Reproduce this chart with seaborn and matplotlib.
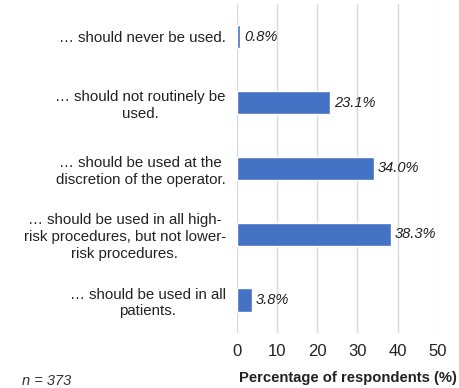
import matplotlib
matplotlib.use("Agg")
import matplotlib.pyplot as plt
import seaborn as sns
import pandas as pd

# Survey answers and shares
answers = [
    "… should never be used.",
    "… should not routinely be\nused.",
    "… should be used at the\ndiscretion of the operator.",
    "… should be used in all high-\nrisk procedures, but not lower-\nrisk procedures.",
    "… should be used in all\npatients.",
]
percent = [0.8, 23.1, 34.0, 38.3, 3.8]
x_ticks = [0, 10, 20, 30, 40, 50]
n_text = "n = 373"

df = pd.DataFrame({"answer": answers, "percent": percent})

sns.set_style("white")
plt.rcParams["font.family"] = ["Liberation Sans", "DejaVu Sans"]

fig = plt.figure(figsize=(4.59, 3.88), dpi=100)
ax = fig.add_axes([0.516, 0.142, 0.438, 0.848])

sns.barplot(data=df, y="answer", x="percent", orient="h", color="#4472C4",
            width=0.35, saturation=1, ax=ax, zorder=3)

ax.set_xlim(0, 50)
ax.set_ylim(4.5, -0.5)
ax.set_xticks(x_ticks)
ax.grid(axis="x", color="#d9d9d9", linewidth=1, zorder=0)
for s in ax.spines.values():
    s.set_visible(False)

ax.tick_params(axis="both", length=0)
ax.tick_params(axis="x", labelsize=12, pad=8, labelcolor="#222222")
ax.tick_params(axis="y", labelsize=10.8, pad=8, labelcolor="#222222")
for lab in ax.get_yticklabels():
    lab.set_multialignment("center")
    lab.set_linespacing(1.25)

for i, v in enumerate(percent):
    ax.text(v + 1.0, i, f"{v:.1f}%", va="center", ha="left",
            fontsize=10.5, style="italic", color="#222222")

ax.set_ylabel("")
ax.set_xlabel("Percentage of respondents (%)", fontsize=10.6, fontweight="bold",
              color="#222222")
ax.xaxis.set_label_coords(0.555, -0.115)
ax.xaxis.label.set_verticalalignment("top")

fig.text(22 / 459, 1 - 381 / 388, n_text, fontsize=10.5, style="italic",
         va="center", ha="left", color="#333333")

fig.savefig("out.png", dpi=100)
